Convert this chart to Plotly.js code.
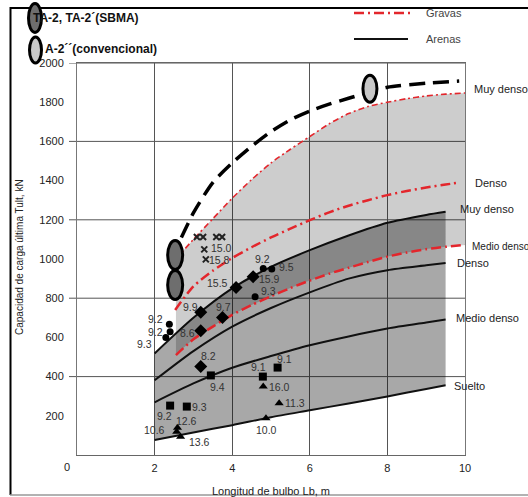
<!DOCTYPE html>
<html><head><meta charset="utf-8">
<script src="https://cdn.plot.ly/plotly-3.0.1.min.js"></script>
<style>html,body{margin:0;padding:0;background:#fff;overflow:hidden}#chart{width:528px;height:497px}</style>
</head><body><div id="chart"></div>
<script>
// ---- Arenas (sands) curves ----
const xArenas = [2, 3, 4, 5, 6, 7, 8, 9, 9.5];
const arenasSuelto = [76, 115, 152, 193, 228, 263, 299, 337, 356];
const arenasMedio = [269, 365, 445, 505, 560, 605, 645, 676, 691];
const arenasDenso = [381, 530, 655, 750, 830, 900, 943, 968, 980];
const arenasMuyDenso = [518, 700, 850, 960, 1045, 1120, 1185, 1225, 1241];

// ---- Gravas (gravels) curves ----
const xGravas = [2.55, 3, 3.5, 4, 4.5, 5, 5.5, 6, 6.5, 7, 7.5, 8, 8.5, 9, 9.5, 10];
const gravasMedio = [510, 590, 655, 715, 765, 810, 852, 890, 925, 955, 985, 1012, 1033, 1050, 1062, 1072];
const gravasMuyDenso = [1000, 1100, 1205, 1310, 1405, 1490, 1560, 1625, 1690, 1742, 1778, 1800, 1818, 1832, 1841, 1847];
const xGravasDenso = [2.53, 3, 3.5, 4, 4.5, 5, 5.5, 6, 6.5, 7, 7.5, 8, 8.5, 9, 9.5, 9.86];
const gravasDenso = [740, 860, 940, 1005, 1060, 1110, 1155, 1198, 1238, 1272, 1300, 1326, 1347, 1365, 1380, 1390];

// ---- TA-2'' convencional upper bound (dashed) ----
const xConv = [2.69, 3, 3.5, 4, 4.5, 5, 5.5, 6, 6.5, 7, 7.5, 8, 9, 9.85];
const yConv = [1110, 1235, 1390, 1490, 1575, 1650, 1710, 1755, 1790, 1820, 1850, 1876, 1897, 1908];

// ---- Test points ----
const circlesX = [2.38, 2.40, 2.29, 4.80, 5.02, 4.59];
const circlesY = [667, 629, 600, 952, 949, 808];
const circlesLbl = ['9.2', '9.2', '9.3', '9.2', '9.5', '9.3'];
const diamondsX = [4.10, 4.54, 3.19, 3.75, 3.19, 3.19];
const diamondsY = [855, 910, 728, 702, 634, 451];
const diamondsLbl = ['15.5', '15.9', '9.9', '9.7', '8.6', '8.2'];
const squaresX = [3.45, 4.79, 5.17, 2.40, 2.83];
const squaresY = [406, 400, 446, 252, 247];
const squaresLbl = ['9.4', '9.1', '9.1', '9.2', '9.3'];
const trianglesX = [4.80, 5.21, 4.87, 2.59, 2.57, 2.67];
const trianglesY = [349, 264, 187, 139, 119, 93];
const trianglesLbl = ['16.0', '11.3', '10.0', '12.6', '10.6', '13.6'];
const crossesX = [3.09, 3.25, 3.59, 3.74, 3.28, 3.32];
const crossesY = [1112, 1112, 1112, 1112, 1049, 998];
const crossesLbl = ['', '', '', '', '15.0', '15.8'];

// ---- Ellipse markers ----
const sbmaX = [2.53, 2.53];
const sbmaY = [1020, 867];
const convEllX = [7.55];
const convEllY = [1869];

// ---- Axis ticks ----
const xTicks = [2, 4, 6, 8, 10];
const yTicks = [200, 400, 600, 800, 1000, 1200, 1400, 1600, 1800, 2000];
const yGrid = [400, 800, 1200, 1600, 2000];

// ---- Curve labels ----
const curveLabels = ['Muy denso', 'Denso', 'Muy denso', 'Medio denso', 'Denso', 'Medio denso', 'Suelto'];

// ---- layout/style (pixel placement of labels, offsets from markers) ----
const curveLabelPx = [[472, 89], [473, 183], [458, 209], [470, 246], [455, 263], [454, 318], [452, 386]];
const curveLabelSize = [11, 11, 11, 10, 11, 11, 11];
const circlesOff = [[-14, -5], [-14.5, 0], [-21, 7], [-1, -9], [14.5, -2], [13, -6]];
const diamondsOff = [[-19, -4], [16, 2.5], [-10.7, -5.3], [0.7, -10.3], [-13.7, 2.6], [8, -10.4]];
const squaresOff = [[7, 11.4], [-4, -9.4], [7, -9], [-6, 10.6], [12.5, 0]];
const trianglesOff = [[16.7, 0], [16, 0], [0.7, 11.4], [8.7, -6.7], [-22.7, -1.4], [19.3, 5.3]];
const crossesOff = [[0, 0], [0, 0], [0, 0], [0, 0], [17.4, -1], [14, 1]];

const FONT = 'Liberation Sans, Arial, Helvetica, sans-serif';
const RED = '#e3262c';
const L = 77, T = 63, PW = 388, PH = 392;
const px = v => (v - L) / PW;
const py = v => (T + PH - v) / PH;

const blackLine = {color: '#111', width: 2, shape: 'spline', smoothing: 0.7};
const redLine = {color: RED, width: 2.5, dash: '10px,4px,2px,4px', shape: 'spline', smoothing: 0.7};

const traces = [
  {x: xArenas, y: arenasSuelto, mode: 'lines', line: blackLine},
  {x: xArenas, y: arenasMuyDenso, mode: 'lines', line: blackLine, fill: 'tonexty', fillcolor: 'rgba(0,0,0,0.34)'},
  {x: xArenas, y: arenasDenso, mode: 'lines', line: blackLine},
  {x: xArenas, y: arenasMedio, mode: 'lines', line: blackLine},
  {x: xGravas, y: gravasMedio, mode: 'lines', line: redLine},
  {x: xGravas, y: gravasMuyDenso, mode: 'lines', line: {color: RED, width: 1.6, dash: '6px,3px,2px,3px', shape: 'spline', smoothing: 0.7},
   fill: 'tonexty', fillcolor: 'rgba(0,0,0,0.195)'},
  {x: xGravasDenso, y: gravasDenso, mode: 'lines', line: redLine},
  {x: xConv, y: yConv, mode: 'lines', line: {color: '#000', width: 3.5, dash: '16px,8px', shape: 'spline', smoothing: 0.7}},
  {x: circlesX, y: circlesY, mode: 'markers', marker: {symbol: 'circle', size: 7, color: '#000'}},
  {x: diamondsX, y: diamondsY, mode: 'markers', marker: {symbol: 'diamond', size: 10, color: '#000'}},
  {x: squaresX, y: squaresY, mode: 'markers', marker: {symbol: 'square', size: 8, color: '#000'}},
  {x: trianglesX, y: trianglesY, mode: 'markers', marker: {symbol: 'triangle-up', size: 8, color: '#000'}},
  {x: crossesX, y: crossesY, mode: 'markers',
   marker: {symbol: 'x-thin-open', size: 6, color: '#222', line: {width: 2, color: '#222'}}}
];
traces.forEach(t => { t.showlegend = false; t.hoverinfo = 'skip'; t.cliponaxis = false; });

const shapes = [];
yGrid.forEach(v => shapes.push({type: 'line', xref: 'paper', yref: 'y', x0: px(69), x1: 1, y0: v, y1: v,
  line: {color: '#555', width: 1}, layer: 'below'}));
// outer frame
shapes.push({type: 'line', xref: 'paper', yref: 'paper', x0: px(10.5), x1: px(10.5), y0: py(7), y1: py(495), line: {color: '#000', width: 2}});
shapes.push({type: 'line', xref: 'paper', yref: 'paper', x0: px(10), x1: px(530), y0: py(8), y1: py(8), line: {color: '#000', width: 2}});
shapes.push({type: 'line', xref: 'paper', yref: 'paper', x0: px(10), x1: px(530), y0: py(495), y1: py(495), line: {color: '#999', width: 1.5}});
// top legend lines
shapes.push({type: 'line', xref: 'paper', yref: 'paper', x0: px(354), x1: px(411), y0: py(13), y1: py(13), line: {color: RED, width: 2.5, dash: '10px,4px,2px,4px'}});
shapes.push({type: 'line', xref: 'paper', yref: 'paper', x0: px(354), x1: px(408), y0: py(39), y1: py(39), line: {color: '#111', width: 2}});
// ellipse markers on chart
sbmaX.forEach((x, i) => shapes.push({type: 'circle', xref: 'x', yref: 'y', xsizemode: 'pixel', ysizemode: 'pixel',
  xanchor: x, yanchor: sbmaY[i], x0: -7.5, x1: 7.5, y0: -14.5, y1: 14.5,
  fillcolor: '#6e6e6e', line: {color: '#000', width: 3}, layer: 'above'}));
convEllX.forEach((x, i) => shapes.push({type: 'circle', xref: 'x', yref: 'y', xsizemode: 'pixel', ysizemode: 'pixel',
  xanchor: x, yanchor: convEllY[i], x0: -7, x1: 7, y0: -13.5, y1: 13.5,
  fillcolor: '#c8c8c8', line: {color: '#000', width: 3}, layer: 'above'}));
// legend ellipses
shapes.push({type: 'circle', xref: 'paper', yref: 'paper', xsizemode: 'pixel', ysizemode: 'pixel',
  xanchor: px(35), yanchor: py(18), x0: -6.5, x1: 6.5, y0: -14.5, y1: 14.5,
  fillcolor: '#6e6e6e', line: {color: '#000', width: 3}});
shapes.push({type: 'circle', xref: 'paper', yref: 'paper', xsizemode: 'pixel', ysizemode: 'pixel',
  xanchor: px(35.5), yanchor: py(50), x0: -6, x1: 6, y0: -13, y1: 13,
  fillcolor: '#c8c8c8', line: {color: '#000', width: 3}});

const annotations = [];
const ann = (x, y, text, opts) => annotations.push(Object.assign({xref: 'paper', yref: 'paper', x: px(x), y: py(y), text: text,
  showarrow: false, xanchor: 'left', yanchor: 'middle', font: {family: FONT, size: 11, color: '#222'}}, opts || {}));
ann(31, 18, '<b>TA-2, TA-2´(SBMA)</b>', {font: {family: FONT, size: 12, color: '#111'}});
ann(43, 49, '<b>A-2´´(convencional)</b>', {font: {family: FONT, size: 12, color: '#111'}});
ann(424, 13, 'Gravas', {font: {family: FONT, size: 11, color: '#444'}});
ann(424, 39, 'Arenas', {font: {family: FONT, size: 11, color: '#444'}});
ann(67, 467, '0', {xanchor: 'center'});
ann(19, 257, 'Capacidad de carga última Tult, kN', {xanchor: 'center', textangle: -90, font: {family: FONT, size: 10, color: '#222'}});
ann(271, 491, 'Longitud de bulbo Lb, m', {xanchor: 'center'});
curveLabels.forEach((t, i) => ann(curveLabelPx[i][0], curveLabelPx[i][1], t, {font: {family: FONT, size: curveLabelSize[i], color: '#222'}}));

// point labels
const addPointLabels = (xs, ys, lbls, offs) => lbls.forEach((t, i) => {
  if (!t) return;
  annotations.push({xref: 'x', yref: 'y', x: xs[i], y: ys[i], text: t, showarrow: false,
    xanchor: 'center', yanchor: 'middle', xshift: offs[i][0], yshift: -offs[i][1],
    font: {family: FONT, size: 10.5, color: '#333'}});
});
addPointLabels(circlesX, circlesY, circlesLbl, circlesOff);
addPointLabels(diamondsX, diamondsY, diamondsLbl, diamondsOff);
addPointLabels(squaresX, squaresY, squaresLbl, squaresOff);
addPointLabels(trianglesX, trianglesY, trianglesLbl, trianglesOff);
addPointLabels(crossesX, crossesY, crossesLbl, crossesOff);

const layout = {
  width: 528, height: 497,
  margin: {l: L, r: 528 - L - PW, t: T, b: 497 - T - PH, pad: 0},
  paper_bgcolor: '#fff', plot_bgcolor: '#fff',
  showlegend: false, hovermode: false,
  font: {family: FONT, size: 11, color: '#222'},
  xaxis: {range: [0, 10], tickmode: 'array', tickvals: xTicks, showgrid: true, gridcolor: '#555', gridwidth: 1,
    zeroline: false, showline: true, mirror: true, linecolor: '#666', linewidth: 1,
    ticks: 'outside', ticklen: 3, tickcolor: 'rgba(0,0,0,0)', tickfont: {family: FONT, size: 11, color: '#222'}},
  yaxis: {range: [0, 2000], tickmode: 'array', tickvals: yTicks, showgrid: false,
    zeroline: false, showline: true, mirror: true, linecolor: '#777', linewidth: 1,
    ticks: 'outside', ticklen: 10, tickcolor: 'rgba(0,0,0,0)', tickfont: {family: FONT, size: 11, color: '#222'}},
  shapes: shapes,
  annotations: annotations
};

Plotly.newPlot('chart', traces, layout, {staticPlot: true, displayModeBar: false});
</script>
</body></html>
